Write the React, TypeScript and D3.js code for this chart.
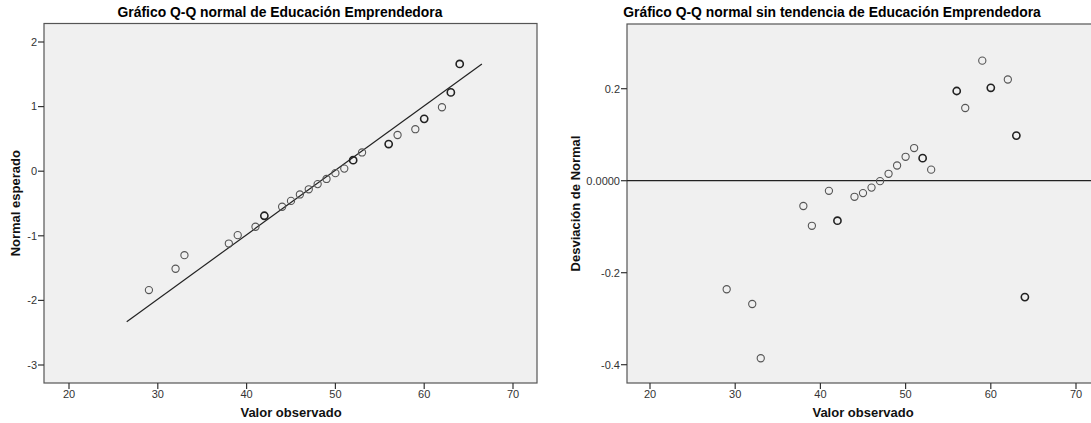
import React from 'react';
import * as d3 from 'd3';

const observed = [29, 32, 33, 38, 39, 41, 42, 44, 45, 46, 47, 48, 49, 50, 51, 52, 53, 56, 57, 59, 60, 62, 63, 64];
const expectedNormal = [-1.84, -1.51, -1.3, -1.12, -0.99, -0.86, -0.69, -0.55, -0.46, -0.36, -0.28, -0.2, -0.12, -0.03, 0.04, 0.17, 0.29, 0.42, 0.56, 0.65, 0.81, 0.99, 1.22, 1.66];
const deviation = [-0.236, -0.268, -0.386, -0.055, -0.098, -0.022, -0.087, -0.035, -0.027, -0.015, -0.001, 0.015, 0.033, 0.052, 0.071, 0.049, 0.024, 0.195, 0.158, 0.261, 0.202, 0.22, 0.098, -0.253];
const counts = [1, 1, 1, 1, 1, 1, 2, 1, 1, 1, 1, 1, 1, 1, 1, 2, 1, 2, 1, 1, 2, 1, 2, 2];

// reference line of the normal plot
const fitX = [26.5, 66.5];
const fitY = [-2.33, 1.66];

const xTicks = [20, 30, 40, 50, 60, 70];
const leftYTicks = [2, 1, 0, -1, -2, -3];
const rightYTicks = [0.2, 0, -0.2, -0.4];
const rightYTickLabels = ['0.2', '0.0000', '-0.2', '-0.4'];

const font = "'Liberation Sans', Arial, sans-serif";

type PanelProps = {
  title: string;
  titleX: number;
  yLabel: string;
  yLabelX: number;
  frame: { x0: number; x1: number; y0: number; y1: number };
  x: d3.ScaleLinear<number, number>;
  y: d3.ScaleLinear<number, number>;
  yTicks: number[];
  yTickLabels: string[];
  values: number[];
  children?: React.ReactNode;
};

const Panel = ({ title, titleX, yLabel, yLabelX, frame, x, y, yTicks, yTickLabels, values, children }: PanelProps) => {
  const { x0, x1, y0, y1 } = frame;
  const midY = (y0 + y1) / 2;
  return (
    <g fontFamily={font}>
      <text x={titleX} y={17} textAnchor="middle" fontSize={13.9} fontWeight="bold" fill="#000">
        {title}
      </text>
      <rect x={x0} y={y0} width={x1 - x0} height={y1 - y0} fill="#f0f0f0" stroke="#555" strokeWidth={1.2} />
      {yTicks.map((t, i) => (
        <g key={t}>
          <line x1={x0 - 6} x2={x0} y1={y(t)} y2={y(t)} stroke="#333" strokeWidth={1.2} />
          <text x={x0 - 7} y={y(t)} dy="0.35em" textAnchor="end" fontSize={11} fill="#333">
            {yTickLabels[i]}
          </text>
        </g>
      ))}
      {xTicks.map((t) => (
        <g key={t}>
          <line x1={x(t)} x2={x(t)} y1={y1} y2={y1 + 6} stroke="#333" strokeWidth={1.2} />
          <text x={x(t)} y={398} textAnchor="middle" fontSize={11} fill="#333">
            {t}
          </text>
        </g>
      ))}
      <text x={(x(20) + x(70)) / 2} y={417} textAnchor="middle" fontSize={13} fontWeight="bold" fill="#111">
        Valor observado
      </text>
      <text
        transform={`translate(${yLabelX},${midY}) rotate(-90)`}
        textAnchor="middle"
        fontSize={13}
        fontWeight="bold"
        fill="#111"
      >
        {yLabel}
      </text>
      {children}
      {observed.map((d, i) => (
        <circle
          key={i}
          cx={x(d)}
          cy={y(values[i])}
          r={3.6}
          fill="none"
          stroke={counts[i] > 1 ? '#222' : '#555'}
          strokeWidth={counts[i] > 1 ? 1.6 : 1.1}
        />
      ))}
    </g>
  );
};

const App = () => {
  // left: normal Q-Q
  const xL = d3.scaleLinear().domain([20, 70]).range([69, 513]);
  const yL = d3.scaleLinear().domain([2, -3]).range([42, 365]);
  const line = d3
    .line<number>()
    .x((d) => xL(d))
    .y((_, i) => yL(fitY[i]));

  // right: detrended
  const xR = d3.scaleLinear().domain([20, 70]).range([650, 1076]);
  const yR = d3.scaleLinear().domain([0.2, -0.4]).range([88.7, 364.7]);

  return (
    <svg width={1091} height={423} style={{ position: 'absolute', left: 0, top: 0, background: '#fff' }}>
      <Panel
        title="Gráfico Q-Q normal de Educación Emprendedora"
        titleX={280}
        yLabel="Normal esperado"
        yLabelX={20}
        frame={{ x0: 44, x1: 537, y0: 23.5, y1: 383 }}
        x={xL}
        y={yL}
        yTicks={leftYTicks}
        yTickLabels={leftYTicks.map(String)}
        values={expectedNormal}
      >
        <path d={line(fitX) ?? ''} fill="none" stroke="#222" strokeWidth={1.2} />
      </Panel>
      <Panel
        title="Gráfico Q-Q normal sin tendencia de Educación Emprendedora"
        titleX={832}
        yLabel="Desviación de Normal"
        yLabelX={580}
        frame={{ x0: 627, x1: 1100, y0: 24, y1: 383 }}
        x={xR}
        y={yR}
        yTicks={rightYTicks}
        yTickLabels={rightYTickLabels}
        values={deviation}
      >
        <line x1={627} x2={1100} y1={yR(0)} y2={yR(0)} stroke="#222" strokeWidth={1.3} />
      </Panel>
    </svg>
  );
};

export default App;
